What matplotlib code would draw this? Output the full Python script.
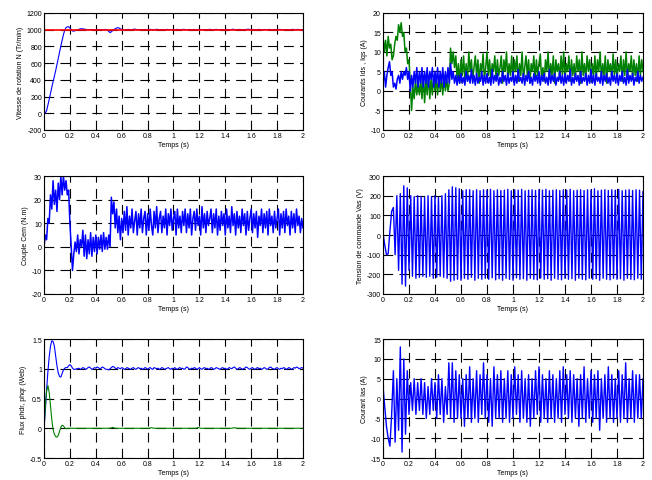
import matplotlib
matplotlib.use('Agg')
import matplotlib.pyplot as plt
import numpy as np
from matplotlib.ticker import FormatStrFormatter

plt.rcParams['font.family'] = ['Liberation Sans', 'DejaVu Sans']
plt.rcParams['axes.unicode_minus'] = False
plt.rcParams['lines.scale_dashes'] = False

# ---- data (simulation traces) ----
# common time grid, 0.01 s steps
t_grid = np.linspace(0, 2, 201)
# time grid for the oscillating phase signals (half-period samples)
t_phase = np.linspace(0, 2, 151)

speed_N = [
    0, 5, 30, 95, 165, 240, 310, 375, 440, 510,
    585, 660, 735, 805, 875, 940, 995, 1025, 1035, 1035,
    1020, 1000, 985, 983, 988, 995, 1000, 1005, 1010, 1012,
    1010, 1008, 1005, 1002, 1000, 1001, 1003, 1002, 1000, 999,
    1000, 1002, 1003, 1001, 999, 998, 1000, 1003, 1002, 995,
    980, 965, 975, 990, 1003, 1012, 1020, 1025, 1020, 1010,
    1003, 997, 995, 998, 1002, 1004, 1002, 998, 1000, 1005,
    1008, 1004, 998, 1000, 1003, 1001, 998, 1000, 1004, 1002,
    999, 1001, 1004, 1002, 1000, 998, 1001, 1006, 1003, 999,
    1000, 1003, 1001, 998, 1000, 1004, 1002, 999, 1001, 1003,
    1000, 998, 1002, 1004, 1001, 999, 1000, 1003, 1005, 1001,
    998, 1000, 1003, 1001, 999, 1002, 1004, 1000, 998, 1001,
    1004, 1002, 999, 1000, 1003, 1001, 998, 1001, 1005, 1002,
    999, 1000, 1002, 1004, 1001, 998, 1000, 1003, 1001, 999,
    1001, 1004, 1002, 999, 1000, 1003, 1006, 1002, 999, 1000,
    1002, 1004, 1001, 998, 1000, 1003, 1001, 1005, 1006, 1002,
    999, 1000, 1003, 1001, 998, 1001, 1004, 1002, 999, 1000,
    1003, 1001, 999, 1002, 1004, 1001, 998, 1000, 1003, 1002,
    999, 1001, 1004, 1002, 1000, 998, 1001, 1003, 1001, 999,
    1000, 1003, 1005, 1002, 999, 1001, 1004, 1002, 1000, 1001,
    1000]
t_ref = [0, 2]
speed_ref = [1000, 1000]

Ids = [
    2, 5, 1, 4, 6, 7.5, 4, 5, 1, 2,
    0.5, 3, 4, 2, 5, 3, 5, 4, 6, 3,
    5, 0, 4, 1, 5, 2, 6, 1, 5, 2,
    6, 1, 5, 2, 6, 1, 5, 3, 6, 1,
    5, 2, 6, 1, 5, 2, 6, 1, 5, 2,
    6, 2, 7, 3, 5, 2, 4, 1.5, 4, 2,
    4.5, 2, 3.5, 1.5, 5, 2.5, 4, 2, 5.5, 2,
    4, 1.5, 4.5, 2, 3.5, 2.5, 5, 1.5, 4, 2,
    4.5, 2, 3.5, 1.5, 5.5, 2, 4, 2.5, 4.5, 1.5,
    3.5, 2, 5, 2.5, 4, 1.5, 4.5, 2, 3.5, 2.5,
    5, 1.5, 4, 2, 5.5, 2.5, 3.5, 2, 4.5, 1.5,
    4, 2.5, 5, 2, 3.5, 1.5, 4.5, 2.5, 4, 2,
    5, 1.5, 4, 2.5, 4.5, 2, 3.5, 1.5, 5.5, 2,
    4, 2.5, 4.5, 1.5, 3.5, 2.5, 5, 2, 4, 1.5,
    4.5, 2, 4, 2.5, 5.5, 1.5, 3.5, 2, 4.5, 2.5,
    4, 1.5, 5, 2, 3.5, 2.5, 4.5, 1.5, 4, 2,
    5.5, 2, 4, 1.5, 4.5, 2.5, 3.5, 2, 5, 1.5,
    4, 2.5, 4.5, 2, 3.5, 1.5, 5, 2.5, 4, 2,
    4.5, 1.5, 4, 2.5, 5, 2, 3.5, 1.5, 5.5, 2,
    4, 2.5, 4.5, 1.5, 3.5, 2.5, 5, 2, 4, 2.5,
    3.5]

Iqs = [
    14, 10, 13, 9, 14, 11, 12, 8, 9, 12,
    14, 13, 17, 15, 17.5, 14, 15, 10, 11, 7,
    8, 2, -5, 1, -2, 3, -1, 2, -1, 3,
    -2, 4, -3, 3, -1, 4, -2, 3, -1, 4,
    0, 3, -1, 4, 0, 3, -1, 4, 0, 3,
    0, 2, 11, 7, 10, 6, 9, 3, 7, 2,
    8, 4, 9, 3, 7, 2.5, 10, 5, 8, 3,
    6, 9, 4, 8, 2, 7, 5, 9.5, 3, 6,
    10, 4, 8, 2.5, 7, 5, 9, 3, 8, 4,
    6, 9, 2, 8, 5, 10, 3, 7, 4, 9,
    3, 8, 5, 9, 2.5, 7, 4, 10, 3, 6,
    9, 4, 8, 2, 7, 5, 9, 3, 8, 4,
    7, 9.5, 3, 6, 2.5, 8, 5, 10, 3, 7,
    4, 9, 2, 8, 5, 7, 3, 9, 4, 10,
    3, 7, 5, 9, 2.5, 8, 4, 7, 3, 9,
    5, 8, 2, 10, 4, 7, 3, 9, 5, 8,
    2.5, 7, 4, 9, 3, 8, 5, 10, 3, 7,
    4, 9, 2, 8, 5, 7, 3, 9.5, 4, 8,
    3, 7, 5, 9, 2.5, 8, 4, 10, 3, 7,
    5, 9, 3, 8, 4, 7, 2.5, 9, 4, 8,
    5]

Cem = [
    0, 5, 3, 12, 10, 22, 16, 28, 18, 24,
    15, 27, 20, 30, 22, 30, 24, 28, 22, 24,
    10, 0, -10, -3, 2, -2, 5, -3, 3, 0,
    7, -4, 5, -5, 3, -3, 6, -4, 4, -2,
    5, -3, 4, -1, 5, -2, 6, -1, 4, -1,
    5, 0, 21, 14, 19, 8, 16, 6, 13, 3,
    12, 6, 15, 7, 17, 5, 13, 8, 16, 6,
    11, 15, 5, 14, 8, 16, 6, 12, 15, 5,
    14, 7, 16, 9, 5, 15, 8, 17, 6, 12,
    15, 6, 13, 8, 16, 5, 14, 9, 16, 7,
    12, 15, 5, 16, 8, 13, 6, 15, 9, 16,
    6, 14, 8, 16, 5, 12, 15, 7, 16, 9,
    13, 5, 17, 8, 14, 6, 15, 9, 12, 16,
    6, 14, 8, 16, 5, 13, 7, 15, 9, 14,
    5, 16, 8, 13, 6, 17, 9, 14, 5, 15,
    8, 13, 6, 16, 9, 14, 5, 15, 7, 12,
    16, 6, 14, 8, 15, 4, 13, 9, 16, 6,
    14, 8, 15, 5, 16, 9, 13, 6, 15, 8,
    12, 16, 5, 14, 8, 15, 6, 16, 9, 13,
    5, 15, 8, 14, 6, 16, 9, 13, 6, 12,
    8]

Vas = [
    10, -50, -100, -95, 20, 120, 140, -100, 200, -180,
    210, -250, 250, -260, 240, -180, 200, -210, 195, -220,
    200, -215, 195, -210, 190, -215, 200, -210, 195, -220,
    200, -215, 190, -210, 200, -215, 210, -220, 230, -235,
    245, -230, 240, -225, 235, -230, 225, -220, 230, -225,
    230, -215, 225, -230, 230, -220, 225, -225, 230, -220,
    228, -225, 232, -218, 225, -228, 230, -222, 226, -230,
    228, -220, 232, -225, 225, -230, 230, -218, 228, -225,
    232, -222, 225, -230, 228, -220, 230, -225, 226, -228,
    230, -220, 228, -225, 232, -222, 225, -230, 228, -220,
    230, -225, 226, -228, 230, -220, 228, -225, 232, -222,
    225, -230, 228, -220, 230, -225, 226, -228, 230, -220,
    228, -225, 235, -222, 225, -230, 228, -220, 230, -225,
    226, -228, 230, -220, 228, -225, 232, -222, 225, -230,
    228, -220, 230, -225, 226, -228, 230, -220, 228, -225,
    220]

phdr = [
    0, 0.3, 0.65, 0.95, 1.2, 1.38, 1.47, 1.46, 1.38, 1.22,
    1.05, 0.93, 0.87, 0.86, 0.92, 0.98, 1.01, 1.02, 1.02, 1.05,
    1.07, 1.05, 1.01, 0.99, 0.99, 1.0, 1.0, 1.01, 0.99, 1.0,
    1.02, 1.01, 0.99, 1.0, 1.02, 1.03, 1.01, 0.99, 1.0, 1.02,
    1.01, 1.03, 1.02, 1.0, 1.01, 1.03, 1.02, 1.0, 0.99, 0.99,
    0.98, 1.0, 1.02, 1.04, 1.03, 1.01, 1.0, 1.02, 1.01, 1.0,
    1.02, 1.01, 0.99, 1.0, 1.02, 1.01, 1.0, 0.99, 1.01, 1.02,
    1.0, 0.99, 1.01, 1.02, 1.0, 1.01, 0.99, 1.0, 1.02, 1.01,
    0.99, 1.01, 1.02, 1.0, 0.99, 1.02, 1.01, 1.0, 1.01, 0.99,
    1.0, 1.02, 1.01, 0.99, 1.0, 1.01, 1.02, 1.0, 0.99, 1.01,
    1.0, 1.02, 1.0, 0.99, 1.01, 1.02, 1.0, 1.01, 0.99, 1.0,
    1.03, 1.02, 1.0, 0.99, 1.01, 1.0, 1.02, 1.01, 0.99, 1.0,
    1.02, 1.0, 0.99, 1.01, 1.02, 1.0, 1.01, 0.99, 1.0, 1.02,
    1.01, 0.99, 1.0, 1.02, 1.01, 1.0, 0.99, 1.01, 1.02, 1.0,
    1.01, 0.99, 1.0, 1.02, 1.01, 1.0, 1.02, 1.03, 1.01, 0.99,
    1.0, 1.02, 1.01, 0.99, 1.0, 1.01, 1.03, 1.02, 1.0, 0.99,
    1.01, 1.02, 1.0, 0.99, 1.01, 1.02, 1.0, 1.01, 0.99, 1.0,
    1.02, 1.01, 0.99, 1.0, 1.02, 1.03, 1.01, 1.0, 0.99, 1.01,
    1.02, 1.0, 0.99, 1.01, 1.0, 1.02, 1.01, 0.99, 1.0, 1.02,
    1.01, 0.99, 1.0, 1.02, 1.01, 1.03, 1.02, 1.0, 1.01, 1.02,
    1.01]
t_phqr = [0, 0.01, 0.02, 0.03, 0.04, 0.05, 0.06, 0.07, 0.08, 0.09,
          0.10, 0.11, 0.12, 0.13, 0.14, 0.15, 0.16, 0.17, 0.18, 0.20,
          0.51, 0.53, 0.55, 0.81, 0.83, 0.85, 1.17, 1.19, 1.21,
          1.45, 1.47, 1.49, 2.0]
phqr = [0, 0.35, 0.62, 0.72, 0.6, 0.38, 0.15, -0.02, -0.1, -0.14,
        -0.15, -0.12, -0.05, 0.02, 0.05, 0.04, 0.01, -0.01, 0, 0,
        0, 0.015, 0, 0, 0.01, 0, 0, 0.012, 0,
        0, 0.01, 0, 0]

Ias = [
    3, -2, -7, -10, -12, -4, 7, -11, 5, -8,
    13, -13.5, 10, -9, 7, -4, 4, -3, 5, -4,
    4, -3, 5, -4, 4, -5, 3, -4, 5, -3,
    4, -5, 6, -4, 5, -6, 3, -4, 9, -5,
    9, -6, 7, -5, 6, -5, 5, -7, 6, -5,
    8, -6, 5, -5, 7, -6, 6, -4, 9, -5,
    6, -6, 5, -7, 8, -5, 6, -5, 7, -6,
    5, -5, 7, -6, 6, -5, 8, -4, 6, -6,
    7, -5, 5, -6, 6, -7, 5, -5, 7, -4,
    8, -6, 6, -5, 5, -6, 7, -5, 6, -6,
    5, -5, 7, -6, 8, -4, 6, -5, 7, -6,
    6, -5, 5, -7, 6, -5, 8, -6, 5, -5,
    7, -6, 6, -5, 7, -8, 5, -5, 6, -6,
    8, -5, 6, -6, 5, -5, 7, -6, 6, -5,
    9, -6, 5, -5, 7, -6, 6, -5, 6, -5,
    5]

blue = (0, 0, 1)
green = (0, 0.5, 0)
red = (1, 0, 0)

# axes boxes in figure fractions (left, bottom, width, height)
col_left = [0.0675, 0.5874]
col_w = [0.3972, 0.3988]
row_b = [0.7277, 0.3867, 0.0457]
row_h = [0.2432, 0.2453, 0.2474]


def style_axes(ax, ylim, yticks, ylabel):
    ax.set_xlim(0, 2)
    ax.set_ylim(*ylim)
    ax.set_xticks(np.arange(0, 2.01, 0.2))
    ax.set_yticks(yticks)
    ax.xaxis.set_major_formatter(FormatStrFormatter('%g'))
    ax.yaxis.set_major_formatter(FormatStrFormatter('%g'))
    ax.grid(True, color='k', linestyle=(0, (7, 4.5)), linewidth=0.8)
    ax.set_axisbelow(True)
    ax.tick_params(direction='in', length=2, width=0.5, top=True, right=True,
                   labelsize=5, pad=1.5)
    for s in ax.spines.values():
        s.set_linewidth(0.8)
    ax.set_xlabel('Temps (s)', fontsize=5, labelpad=1.5)
    ax.set_ylabel(ylabel, fontsize=5, labelpad=2)


fig = plt.figure(figsize=(6.52, 4.81), dpi=100)

ax1 = fig.add_axes([col_left[0], row_b[0], col_w[0], row_h[0]])
ax1.plot(t_grid, speed_N, color=blue, lw=0.8)
ax1.plot(t_ref, speed_ref, color=red, lw=1.2)
style_axes(ax1, (-200, 1200), np.arange(-200, 1201, 200), 'Vitesse de rotation N (Tr/min)')

ax2 = fig.add_axes([col_left[1], row_b[0], col_w[1], row_h[0]])
ax2.plot(t_grid, Iqs, color=green, lw=1.1)
ax2.plot(t_grid, Ids, color=blue, lw=1.1)
style_axes(ax2, (-10, 20), np.arange(-10, 21, 5), 'Courants Ids , Iqs (A)')

ax3 = fig.add_axes([col_left[0], row_b[1], col_w[0], row_h[1]])
ax3.plot(t_grid, Cem, color=blue, lw=1.1)
style_axes(ax3, (-20, 30), np.arange(-20, 31, 10), 'Couple Cem (N.m)')

ax4 = fig.add_axes([col_left[1], row_b[1], col_w[1], row_h[1]])
ax4.plot(t_phase, Vas, color=blue, lw=1.0)
style_axes(ax4, (-300, 300), np.arange(-300, 301, 100), 'Tension de commande Vas (V)')

ax5 = fig.add_axes([col_left[0], row_b[2], col_w[0], row_h[2]])
ax5.plot(t_grid, phdr, color=blue, lw=0.8)
ax5.plot(t_phqr, phqr, color=green, lw=0.8)
style_axes(ax5, (-0.5, 1.5), np.arange(-0.5, 1.51, 0.5), 'Flux phdr, phqr (Web)')

ax6 = fig.add_axes([col_left[1], row_b[2], col_w[1], row_h[2]])
ax6.plot(t_phase, Ias, color=blue, lw=1.0)
style_axes(ax6, (-15, 15), np.arange(-15, 16, 5), 'Courant Ias (A)')

fig.savefig('out.png', dpi=100)
plt.close(fig)
